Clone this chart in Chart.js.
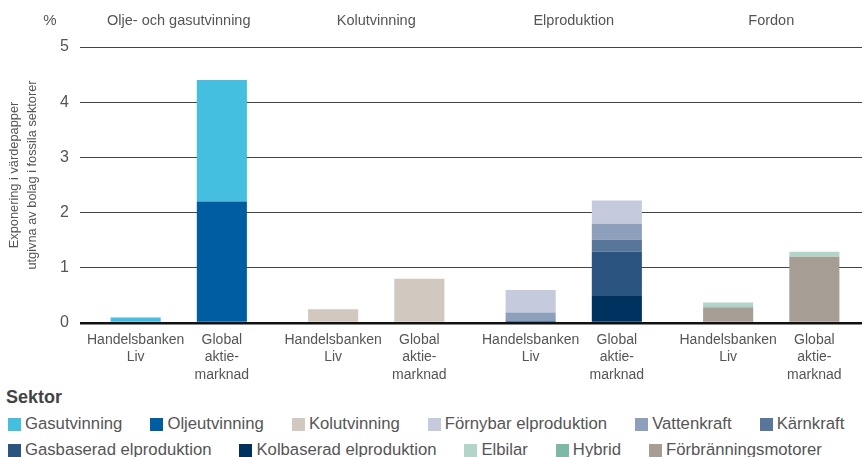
<!DOCTYPE html>
<html lang="sv">
<head>
<meta charset="utf-8">
<script src="https://cdn.jsdelivr.net/npm/chart.js@4"></script>
<style>
  html, body { margin: 0; padding: 0; background: #fff; overflow: hidden; }
  body { width: 862px; height: 457px; position: relative; font-family: "Liberation Sans", Arial, sans-serif; color: #555; }
  #chart { position: absolute; left: 0; top: 0; }
  .legend-title { position: absolute; left: 6px; top: 386px; font-size: 18px; line-height: 22px; font-weight: bold; color: #444; }
  .legend-row { position: absolute; left: 8px; display: flex; white-space: nowrap; font-size: 16.7px; line-height: 24px; color: #555; }
  .legend-item { display: inline-flex; align-items: center; margin-right: 28px; }
  .legend-item i { display: inline-block; width: 13px; height: 13px; margin-right: 4px; }
</style>
</head>
<body>
<canvas id="chart" width="870" height="385"></canvas>
<div class="legend-title">Sektor</div>
<div class="legend-row" id="legendRow1" style="top:412px"></div>
<div class="legend-row" id="legendRow2" style="top:438px"></div>
<script>
// grupper (övre axel) och staplarnas namn under varje stapel
const groups = ['Olje- och gasutvinning', 'Kolutvinning', 'Elproduktion', 'Fordon'];
const barLabels = {
  hb: ['Handelsbanken', 'Liv'],
  global: ['Global', 'aktie-', 'marknad'],
};
const yTicks = [0, 1, 2, 3, 4, 5];
const yTitle = ['Exponering i värdepapper', 'utgivna av bolag i fossila sektorer'];

// sektorer i staplingsordning (nerifrån och upp), värden per grupp i %
const sectors = ['Oljeutvinning', 'Gasutvinning', 'Kolutvinning', 'Kolbaserad elproduktion', 'Gasbaserad elproduktion',
  'Kärnkraft', 'Vattenkraft', 'Förnybar elproduktion', 'Förbränningsmotorer', 'Hybrid', 'Elbilar'];
const colors = ['#005da1', '#45bfe0', '#d1c8bf', '#00325f', '#2b5580',
  '#587699', '#8e9fbc', '#c5cadd', '#a69e94', '#7fb8a7', '#b3d5c9'];

const handelsbankenLiv = [
  [0, 0, 0, 0],      // Oljeutvinning
  [0.1, 0, 0, 0],    // Gasutvinning
  [0, 0.25, 0, 0],   // Kolutvinning
  [0, 0, 0, 0],      // Kolbaserad elproduktion
  [0, 0, 0.04, 0],   // Gasbaserad elproduktion
  [0, 0, 0, 0],      // Kärnkraft
  [0, 0, 0.15, 0],   // Vattenkraft
  [0, 0, 0.41, 0],   // Förnybar elproduktion
  [0, 0, 0, 0.28],   // Förbränningsmotorer
  [0, 0, 0, 0.02],   // Hybrid
  [0, 0, 0, 0.07],   // Elbilar
];
const globalAktiemarknad = [
  [2.2, 0, 0, 0],
  [2.2, 0, 0, 0],
  [0, 0.8, 0, 0],
  [0, 0, 0.49, 0],
  [0, 0, 0.8, 0],
  [0, 0, 0.22, 0],
  [0, 0, 0.29, 0],
  [0, 0, 0.42, 0],
  [0, 0, 0, 1.2],
  [0, 0, 0, 0],
  [0, 0, 0, 0.09],
];

// legendens ordning och radbrytning som i originalet
const legendRows = [
  ['Gasutvinning', 'Oljeutvinning', 'Kolutvinning', 'Förnybar elproduktion', 'Vattenkraft', 'Kärnkraft'],
  ['Gasbaserad elproduktion', 'Kolbaserad elproduktion', 'Elbilar', 'Hybrid', 'Förbränningsmotorer'],
];

const textColor = '#555';
const fontFamily = '"Liberation Sans", Arial, sans-serif';

const datasets = [];
sectors.forEach((name, i) => {
  datasets.push({ label: name, data: handelsbankenLiv[i], backgroundColor: colors[i], stack: 'hb' });
  datasets.push({ label: name, data: globalAktiemarknad[i], backgroundColor: colors[i], stack: 'global' });
});

// %-tecken, y-axelns titel och stapeletiketter
const extraText = {
  id: 'extraText',
  afterDraw(chart) {
    const { ctx, chartArea } = chart;
    ctx.save();
    ctx.fillStyle = textColor;
    ctx.textAlign = 'center';
    ctx.textBaseline = 'middle';
    ctx.font = '15px ' + fontFamily;
    ctx.fillText('%', 50, 21);

    ctx.font = '14px ' + fontFamily;
    ['hb', 'global'].forEach((stack) => {
      const index = chart.data.datasets.findIndex((d) => d.stack === stack);
      const meta = chart.getDatasetMeta(index);
      meta.data.forEach((bar) => {
        barLabels[stack].forEach((line, k) => {
          ctx.fillText(line, bar.x, chartArea.bottom + 17 + k * 17.5);
        });
      });
    });

    ctx.font = '12.8px ' + fontFamily;
    yTitle.forEach((line, k) => {
      ctx.save();
      ctx.translate(14 + k * 18, 175);
      ctx.rotate(-Math.PI / 2);
      ctx.fillText(line, 0, 0);
      ctx.restore();
    });
    ctx.restore();
  },
};

new Chart(document.getElementById('chart'), {
  type: 'bar',
  data: { labels: groups, datasets },
  plugins: [extraText],
  options: {
    responsive: false,
    animation: false,
    devicePixelRatio: 1,
    layout: { padding: 0 },
    categoryPercentage: 0.873,
    barPercentage: 0.581,
    plugins: { legend: { display: false }, tooltip: { enabled: false } },
    scales: {
      x: {
        stacked: true,
        grid: { display: false },
        border: { display: false },
        ticks: { display: false },
        afterFit: (axis) => { axis.height = 62; },
      },
      x2: {
        type: 'category',
        position: 'top',
        labels: groups,
        offset: true,
        grid: { display: false, drawTicks: false },
        border: { display: false },
        ticks: { color: textColor, font: { family: fontFamily, size: 14.5 }, padding: 17, maxRotation: 0 },
        afterFit: (axis) => { axis.height = 47; },
      },
      y: {
        stacked: true,
        min: 0,
        max: 5,
        afterBuildTicks: (axis) => { axis.ticks = yTicks.map((v) => ({ value: v })); },
        grid: {
          drawTicks: false,
          color: (c) => (c.tick.value === 0 ? '#111' : '#444'),
          lineWidth: (c) => (c.tick.value === 0 ? 2.5 : 1),
        },
        border: { display: false },
        ticks: { color: textColor, font: { family: fontFamily, size: 16 }, padding: 11 },
        afterFit: (axis) => { axis.width = 80; },
      },
    },
  },
});

legendRows.forEach((row, r) => {
  const el = document.getElementById('legendRow' + (r + 1));
  row.forEach((name) => {
    const item = document.createElement('span');
    item.className = 'legend-item';
    const box = document.createElement('i');
    box.style.background = colors[sectors.indexOf(name)];
    item.appendChild(box);
    item.appendChild(document.createTextNode(name));
    el.appendChild(item);
  });
});
</script>
</body>
</html>
